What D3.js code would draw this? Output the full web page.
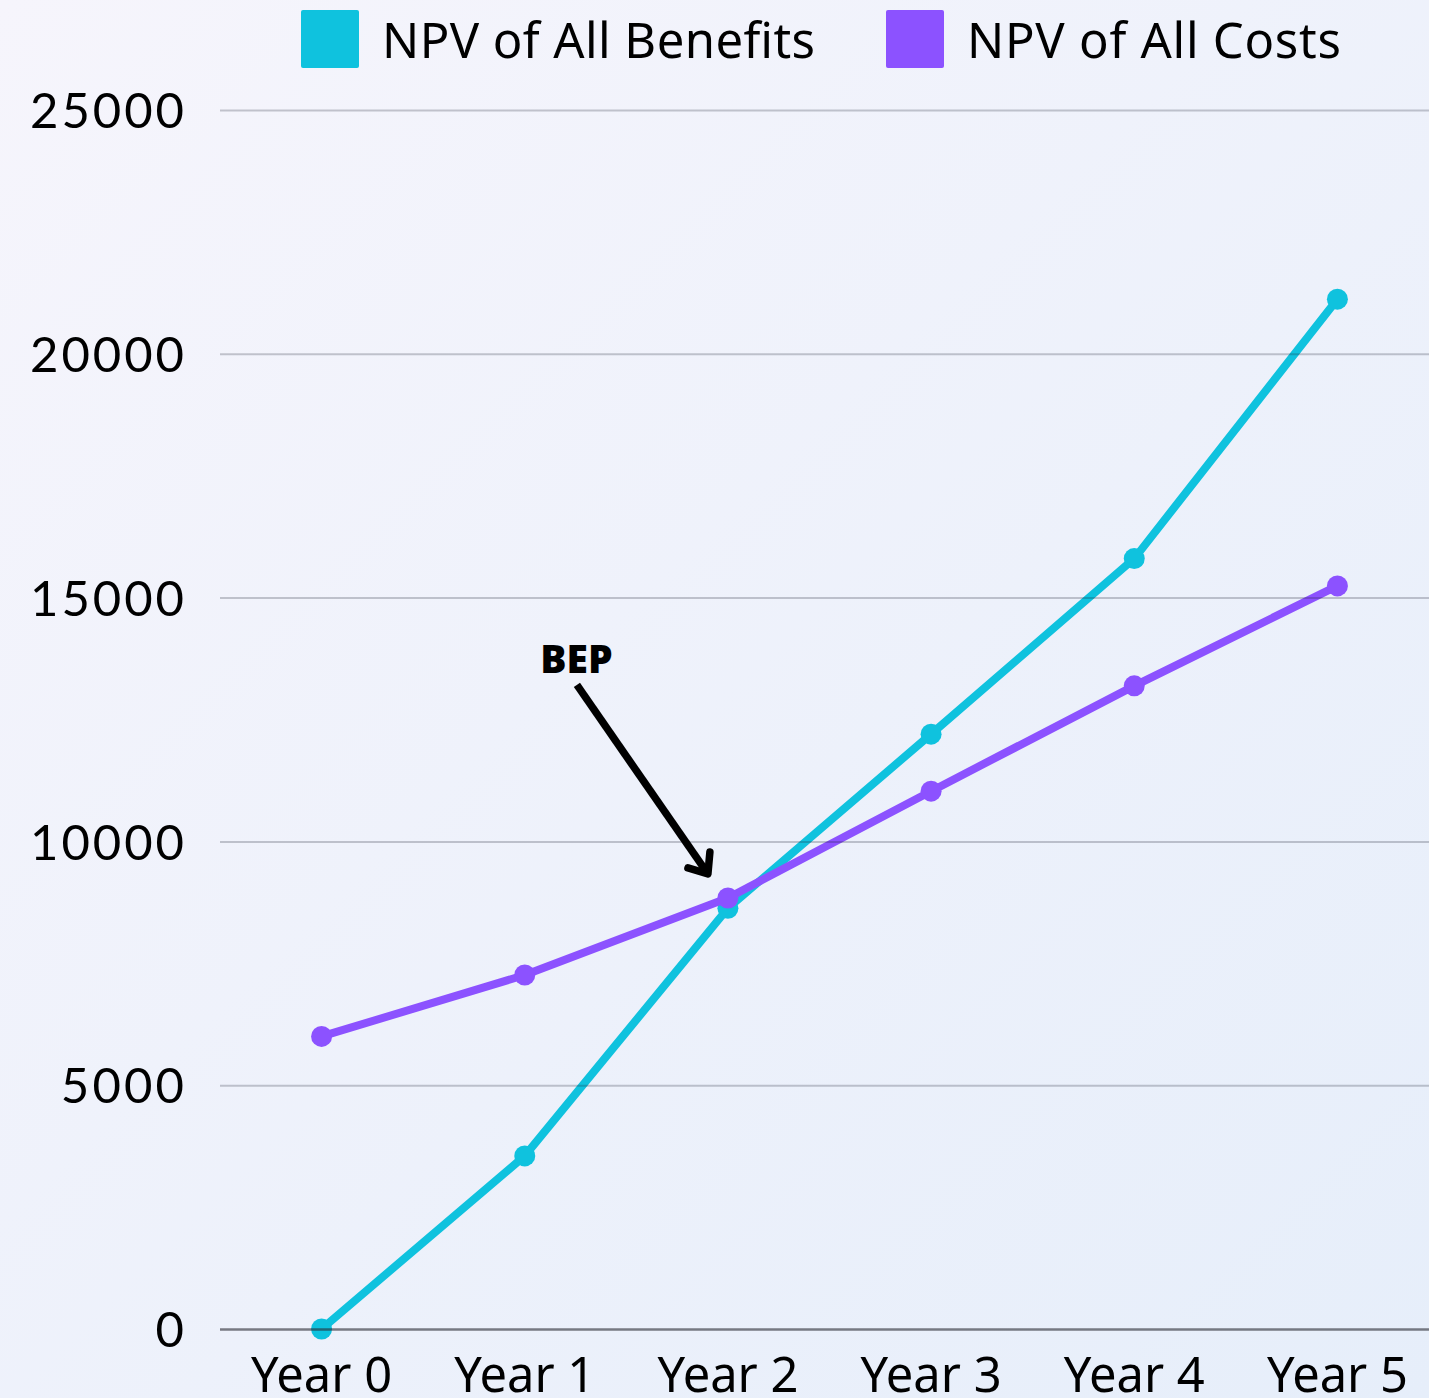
<!DOCTYPE html>
<html>
<head>
<meta charset="utf-8">
<script src="https://cdn.jsdelivr.net/npm/d3@7"></script>
<style>
  html, body { margin: 0; padding: 0; }
  body { width: 1429px; height: 1398px; overflow: hidden; }
</style>
</head>
<body>
<svg id="chart" width="1429" height="1398"></svg>
<script>
const years = ['Year 0', 'Year 1', 'Year 2', 'Year 3', 'Year 4', 'Year 5'];
const benefits = [0, 3550, 8630, 12200, 15800, 21120];
const costs = [6000, 7260, 8840, 11030, 13190, 15240];
const yTicks = [0, 5000, 10000, 15000, 20000, 25000];
const seriesNames = ['NPV of All Benefits', 'NPV of All Costs'];
const seriesColors = ['#0fc2de', '#8c52ff'];

const width = 1429, height = 1398;
const margin = { top: 110, right: -10, bottom: 69, left: 220 };

const svg = d3.select('#chart');

// Background gradient
const defs = svg.append('defs');
const grad = defs.append('linearGradient')
  .attr('id', 'bg')
  .attr('x1', '0%').attr('y1', '0%')
  .attr('x2', '100%').attr('y2', '100%');
grad.append('stop').attr('offset', '0%').attr('stop-color', '#f6f5fc');
grad.append('stop').attr('offset', '100%').attr('stop-color', '#e6eefa');

svg.append('rect')
  .attr('width', width).attr('height', height)
  .attr('fill', 'url(#bg)');

const x = d3.scaleBand()
  .domain(years)
  .range([margin.left, width - margin.right]);

const y = d3.scaleLinear()
  .domain([0, 25000])
  .range([height - margin.bottom, margin.top]);

const cx = d => x(d) + x.bandwidth() / 2;

// Series lines
const series = [benefits, costs];
const line = d3.line()
  .x((d, i) => cx(years[i]))
  .y(d => y(d));

series.forEach((vals, s) => {
  svg.append('path')
    .datum(vals)
    .attr('fill', 'none')
    .attr('stroke', seriesColors[s])
    .attr('stroke-width', 8)
    .attr('stroke-linejoin', 'round')
    .attr('d', line);

  svg.append('g')
    .selectAll('circle')
    .data(vals)
    .join('circle')
    .attr('cx', (d, i) => cx(years[i]))
    .attr('cy', d => y(d))
    .attr('r', 10.5)
    .attr('fill', seriesColors[s]);
});

// Gridlines (drawn over the lines, translucent)
const yAxis = d3.axisLeft(y)
  .tickValues(yTicks)
  .tickSize(0)
  .tickPadding(36)
  .tickFormat(d3.format('d'));

const gy = svg.append('g')
  .attr('transform', `translate(${margin.left},0)`)
  .call(yAxis);
gy.select('.domain').remove();
gy.selectAll('.tick line')
  .attr('x2', width - margin.left)
  .attr('stroke', d => d === 0 ? 'rgba(40,42,50,0.6)' : 'rgba(30,35,50,0.24)')
  .attr('stroke-width', d => d === 0 ? 2.5 : 2);
gy.selectAll('.tick text')
  .attr('fill', '#000')
  .attr('font-family', 'Lato, "Open Sans", sans-serif')
  .attr('font-size', 49)
  .attr('dy', '0.36em')
  .attr('textLength', d => String(d).length * 30.8)
  .attr('lengthAdjust', 'spacing');

// X axis labels
const xAxis = d3.axisBottom(x).tickSize(0).tickPadding(28);
const gx = svg.append('g')
  .attr('transform', `translate(0,${height - margin.bottom})`)
  .call(xAxis);
gx.select('.domain').remove();
gx.selectAll('.tick text')
  .attr('fill', '#000')
  .attr('font-family', '"Noto Sans", "Open Sans", sans-serif')
  .attr('font-size', 49)
  .attr('dy', '0.72em')
  .attr('textLength', 141)
  .attr('lengthAdjust', 'spacingAndGlyphs');

// BEP annotation
const bx = cx(years[2]), by = y(costs[2]);
const tip = [bx - 20, by - 24];
const tail = [bx - 151, by - 213];
svg.append('path')
  .attr('d', `M${tail[0]},${tail[1]} L${tip[0]},${tip[1]}`)
  .attr('stroke', '#000')
  .attr('stroke-width', 7.5)
  .attr('fill', 'none');
svg.append('path')
  .attr('d', `M${tip[0] - 20},${tip[1] - 6} L${tip[0]},${tip[1]} L${tip[0] + 2},${tip[1] - 22}`)
  .attr('stroke', '#000')
  .attr('stroke-width', 7.5)
  .attr('stroke-linecap', 'round')
  .attr('stroke-linejoin', 'round')
  .attr('fill', 'none');
svg.append('text')
  .attr('x', tail[0] - 0.5)
  .attr('y', tail[1] - 12)
  .attr('text-anchor', 'middle')
  .attr('font-family', '"Open Sans", sans-serif')
  .attr('font-weight', 800)
  .attr('font-size', 39)
  .attr('fill', '#000')
  .text('BEP');

// Legend
const legendX = [301, 886];
const legendLen = [433, 374];
const legend = svg.append('g');
seriesNames.forEach((name, i) => {
  legend.append('rect')
    .attr('x', legendX[i]).attr('y', 10)
    .attr('width', 58).attr('height', 58)
    .attr('rx', 2)
    .attr('fill', seriesColors[i]);
  legend.append('text')
    .attr('x', legendX[i] + 81).attr('y', 58)
    .attr('font-family', '"Noto Sans", "Open Sans", sans-serif')
    .attr('font-size', 49)
    .attr('fill', '#000')
    .attr('textLength', legendLen[i])
    .attr('lengthAdjust', 'spacing')
    .text(name);
});
</script>
</body>
</html>
